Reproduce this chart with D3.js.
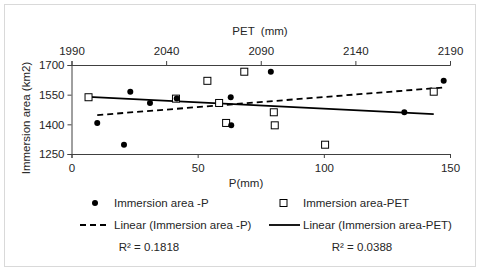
<!DOCTYPE html>
<html><head><meta charset="utf-8">
<script src="https://cdn.jsdelivr.net/npm/d3@7"></script>
<style>body{margin:0;background:#fff}svg{display:block}text{font-family:"Liberation Sans",Arial,sans-serif;fill:#262626}</style>
</head><body><svg id="c" width="480" height="274"></svg>
<script>
const area = [1297, 1395, 1407, 1461, 1508, 1530, 1537, 1565, 1620, 1666];
const precip = [20.8, 63.3, 10.2, 131.9, 31.1, 41.7, 63.1, 23.3, 147.5, 79];
const pet = [2124, 2097.4, 2071.7, 2096.9, 2068, 2045.2, 1999, 2181.4, 2061.8, 2081.3];
const pTicks = [0, 50, 100, 150];
const petTicks = [1990, 2040, 2090, 2140, 2190];
const yTicks = [1250, 1400, 1550, 1700];
const r2Labels = ["R² = 0.1818", "R² = 0.0388"];

const svg = d3.select("#c");
const L = 71.5, R = 450, T = 65, B = 154;
const x = d3.scaleLinear().domain([0, 150]).range([L, R]);
const x2 = d3.scaleLinear().domain([1990, 2190]).range([L, R]);
const y = d3.scaleLinear().domain([1250, 1700]).range([B, T]);

svg.append("rect").attr("x", 4.5).attr("y", 4.5).attr("width", 471).attr("height", 262)
  .attr("fill", "#fff").attr("stroke", "#d9d9d9");

const fs = 11.5;
function styleAxis(g){
  g.selectAll("path").attr("stroke", "#404040");
  g.selectAll("line").attr("stroke", "#404040");
  g.selectAll("text").style("font-size", fs + "px").attr("fill", "#262626")
    .style("font-family", "Liberation Sans, Arial, sans-serif");
}
svg.append("g").attr("transform", `translate(0,${B})`)
  .call(d3.axisBottom(x).tickValues(pTicks).tickFormat(d3.format("d")).tickSize(4).tickSizeOuter(4).tickPadding(6)).call(styleAxis);
svg.append("g").attr("transform", `translate(0,${T})`)
  .call(d3.axisTop(x2).tickValues(petTicks).tickFormat(d3.format("d")).tickSize(4).tickSizeOuter(4).tickPadding(6)).call(styleAxis);
svg.append("g").attr("transform", `translate(${L},0)`)
  .call(d3.axisLeft(y).tickValues(yTicks).tickFormat(d3.format("d")).tickSize(4).tickSizeOuter(4).tickPadding(3)).call(styleAxis);

svg.append("text").attr("x", 260).attr("y", 35).attr("text-anchor", "middle")
  .style("font-size", fs + "px").attr("xml:space", "preserve").text("PET  (mm)");
svg.append("text").attr("x", 246).attr("y", 187).attr("text-anchor", "middle")
  .style("font-size", fs + "px").text("P(mm)");
svg.append("text").attr("transform", "translate(30,118) rotate(-90)").attr("text-anchor", "middle")
  .style("font-size", "11.5px").text("Immersion area (km2)");

function fit(xs, ys){
  const n = xs.length, mx = d3.mean(xs), my = d3.mean(ys);
  let sxy = 0, sxx = 0;
  for (let i = 0; i < n; i++){ sxy += (xs[i]-mx)*(ys[i]-my); sxx += (xs[i]-mx)**2; }
  const b = sxy / sxx, a = my - b*mx;
  const [lo, hi] = d3.extent(xs);
  return [[lo, a + b*lo], [hi, a + b*hi]];
}
const fitP = fit(precip, area), fitE = fit(pet, area);
svg.append("path").attr("d", d3.line().x(d => x(d[0])).y(d => y(d[1]))(fitP))
  .attr("stroke", "#000").attr("stroke-width", 1.8).attr("stroke-dasharray", "6,4").attr("fill", "none");
svg.append("path").attr("d", d3.line().x(d => x2(d[0])).y(d => y(d[1]))(fitE))
  .attr("stroke", "#000").attr("stroke-width", 1.8).attr("fill", "none");

svg.append("g").selectAll("rect").data(area).join("rect")
  .attr("x", (d, i) => x2(pet[i]) - 3.5).attr("y", d => y(d) - 3.5)
  .attr("width", 7).attr("height", 7).attr("fill", "#fff").attr("stroke", "#000").attr("stroke-width", 1);
svg.append("g").selectAll("circle").data(area).join("circle")
  .attr("cx", (d, i) => x(precip[i])).attr("cy", d => y(d)).attr("r", 3).attr("fill", "#000");

// legend
const lg = svg.append("g").style("font-size", fs + "px");
lg.append("circle").attr("cx", 95).attr("cy", 203).attr("r", 3).attr("fill", "#000");
lg.append("text").attr("x", 114).attr("y", 207).text("Immersion area -P");
lg.append("rect").attr("x", 280).attr("y", 199.5).attr("width", 7).attr("height", 7).attr("fill", "#fff").attr("stroke", "#000");
lg.append("text").attr("x", 303).attr("y", 207).text("Immersion area-PET");
lg.append("line").attr("x1", 80).attr("x2", 110).attr("y1", 225).attr("y2", 225)
  .attr("stroke", "#000").attr("stroke-width", 1.8).attr("stroke-dasharray", "6,4");
lg.append("text").attr("x", 114).attr("y", 229).text("Linear (Immersion area -P)");
lg.append("line").attr("x1", 269).attr("x2", 300).attr("y1", 225).attr("y2", 225)
  .attr("stroke", "#000").attr("stroke-width", 1.8);
lg.append("text").attr("x", 303).attr("y", 229).text("Linear (Immersion area-PET)");
lg.append("text").attr("x", 149).attr("y", 251).attr("text-anchor", "middle").text(r2Labels[0]);
lg.append("text").attr("x", 362).attr("y", 251).attr("text-anchor", "middle").text(r2Labels[1]);
</script></body></html>
